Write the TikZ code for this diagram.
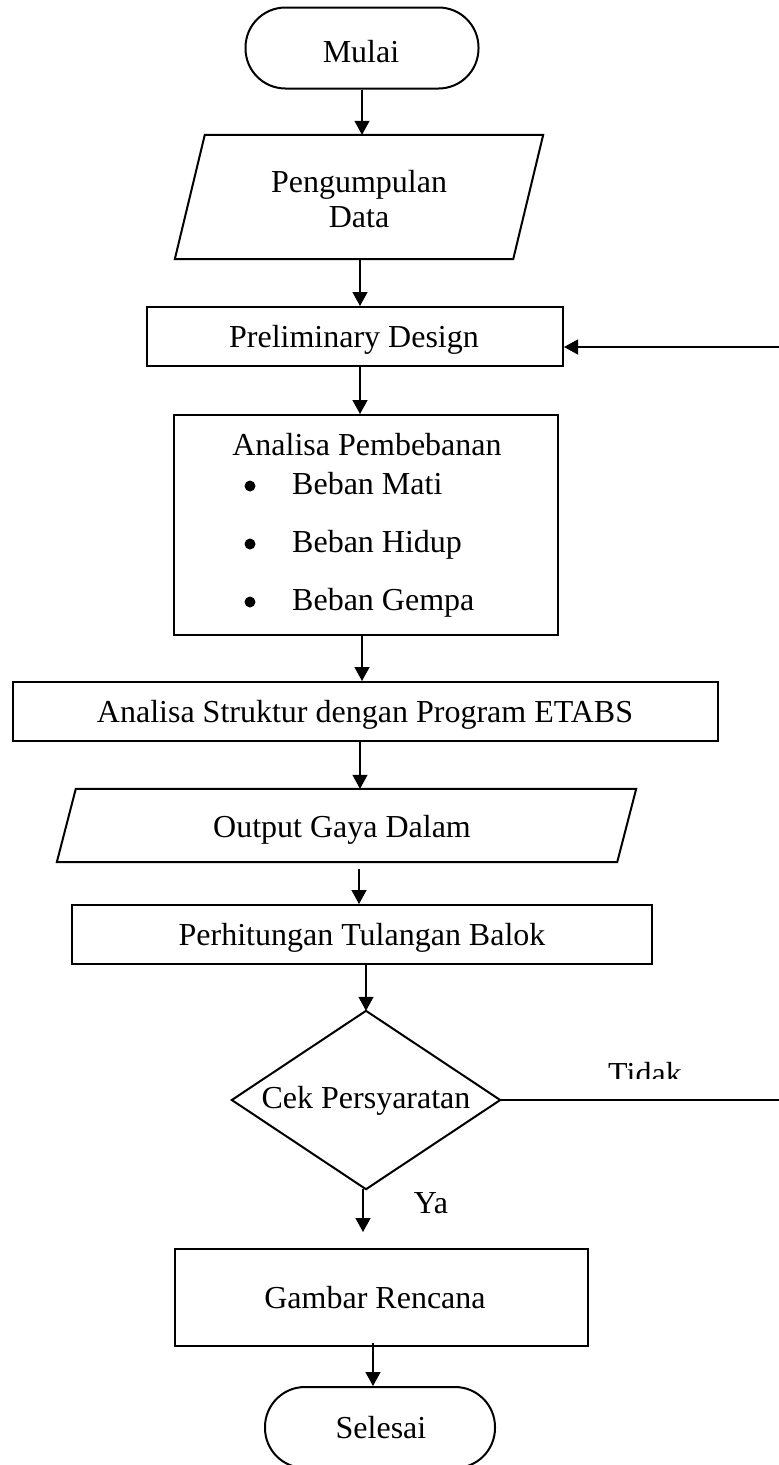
\documentclass[tikz,border=0pt]{standalone}
\usepackage{fontspec}
\setmainfont{Liberation Serif}
\usetikzlibrary{arrows.meta,calc}
\begin{document}
\begin{tikzpicture}[x=1pt,y=-1pt,
  shapeline/.style={draw=black, line width=2pt},
  boxnode/.style={shapeline, rectangle, inner sep=0pt},
  term/.style={shapeline, rectangle, rounded corners=40pt, inner sep=0pt},
  ghost/.style={rectangle, inner sep=0pt, draw=none},
  txt/.style={font=\fontsize{32}{38}\selectfont, inner sep=0pt, anchor=base},
  bulletdot/.style={circle, fill=black, inner sep=0pt, minimum size=11pt},
  conn/.style={draw=black, line width=1.3pt, -{Triangle[length=14pt,width=15pt]}},
  plain/.style={draw=black, line width=1.3pt}
]
\useasboundingbox (0,0) rectangle (779,1465);

% Mulai
\node[term, minimum width=233pt, minimum height=81pt] (mulai) at (362,48) {};
\node[txt] (tmulai) at (361,62) {Mulai};

% Pengumpulan Data
\node[ghost, minimum width=338pt, minimum height=124pt] (kumpul) at (359,197) {};
\draw[shapeline] ($(kumpul.north west)+(15,0)$) -- ($(kumpul.north east)+(15,0)$)
  -- ($(kumpul.south east)+(-15,0)$) -- ($(kumpul.south west)+(-15,0)$) -- cycle;
\node[txt] (tkumpul1) at (359,192) {Pengumpulan};
\node[txt] (tkumpul2) at (359,227) {Data};

% Preliminary Design
\node[boxnode, minimum width=416pt, minimum height=59pt] (prelim) at (355,336.5) {};
\node[txt] (tprelim) at (354,347) {Preliminary Design};

% Analisa Pembebanan
\node[boxnode, minimum width=384pt, minimum height=220pt] (analisa) at (366,525) {};
\node[txt] (tanalisa) at (367,455) {Analisa Pembebanan};
\node[bulletdot] (b1) at (250,486) {};
\node[txt, anchor=base west] (i1) at (292,494) {Beban Mati};
\node[bulletdot] (b2) at (250,544) {};
\node[txt, anchor=base west] (i2) at (292,552) {Beban Hidup};
\node[bulletdot] (b3) at (250,602) {};
\node[txt, anchor=base west] (i3) at (292,610) {Beban Gempa};

% Analisa Struktur
\node[boxnode, minimum width=705pt, minimum height=59pt] (struktur) at (365.5,711.5) {};
\node[txt] (tstruktur) at (365,722) {Analisa Struktur dengan Program ETABS};

% Output Gaya Dalam
\node[ghost, minimum width=560pt, minimum height=73pt] (output) at (346.5,825.5) {};
\draw[shapeline] ($(output.north west)+(9.5,0)$) -- ($(output.north east)+(9.5,0)$)
  -- ($(output.south east)+(-9.5,0)$) -- ($(output.south west)+(-9.5,0)$) -- cycle;
\node[txt] (toutput) at (342,837) {Output Gaya Dalam};

% Perhitungan Tulangan Balok
\node[boxnode, minimum width=580pt, minimum height=59pt] (hitung) at (362,934.5) {};
\node[txt] (thitung) at (362,945) {Perhitungan Tulangan Balok};

% Cek Persyaratan
\node[ghost, minimum width=268pt, minimum height=178pt] (cek) at (366,1100) {};
\draw[shapeline] (cek.north) -- (cek.east) -- (cek.south) -- (cek.west) -- cycle;
\node[txt] (tcek) at (366,1108) {Cek Persyaratan};

% Gambar Rencana
\node[boxnode, minimum width=413pt, minimum height=97pt] (gambar) at (381.5,1297.5) {};
\node[txt] (tgambar) at (375,1308) {Gambar Rencana};

% Selesai
\node[term, minimum width=230pt, minimum height=81pt] (selesai) at (380,1427.5) {};
\node[txt] (tselesai) at (381,1438) {Selesai};

% Labels
\begin{scope}
\clip (560,1050) rectangle (730,1078);
\node[txt] (tidak) at (645,1084) {Tidak};
\end{scope}
\node[txt] (ya) at (431,1213) {Ya};

% Connectors
\coordinate (fb) at (779,347);
\coordinate (tidakend) at (779,1100);

\draw[conn] (mulai.south) -- (mulai.south |- kumpul.north);
\draw[conn] ([xshift=1pt]kumpul.south) -- ([xshift=1pt]kumpul.south |- prelim.north);
\draw[conn] ([xshift=5pt]prelim.south) -- ([xshift=5pt]prelim.south |- analisa.north);
\draw[conn] ([xshift=-4pt]analisa.south) -- ([xshift=-4pt]analisa.south |- struktur.north);
\draw[conn] ([xshift=-5.5pt]struktur.south) -- ([xshift=-5.5pt]struktur.south |- output.north);
\draw[conn, shorten <=7pt] ([xshift=12.5pt]output.south) -- ([xshift=12.5pt]output.south |- hitung.north);
\draw[conn] ([xshift=4pt]hitung.south) -- ([xshift=4pt]hitung.south |- cek.north);
\draw[conn, shorten >=16pt] ([xshift=-3pt]cek.south) -- ([xshift=-3pt]cek.south |- gambar.north);
\draw[conn, shorten <=-4pt] ([xshift=-8.5pt]gambar.south) -- ([xshift=-8.5pt]gambar.south |- selesai.north);
\draw[plain] (cek.east) -- (tidakend);
\draw[conn] (fb) -- (fb -| prelim.east);
\end{tikzpicture}
\end{document}
